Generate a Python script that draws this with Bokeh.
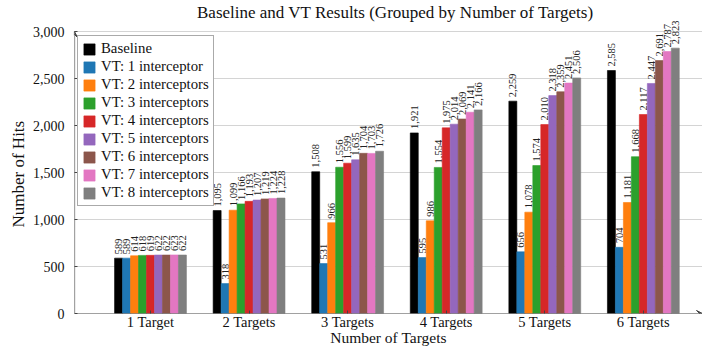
import math
from bokeh.plotting import figure
from bokeh.models import (ColumnDataSource, Legend, LegendItem, FixedTicker,
                          NumeralTickFormatter, Arrow, VeeHead, Range1d, Label, Title)
from bokeh.core.properties import value
from bokeh.embed import file_html
from bokeh.resources import INLINE

categories = ["1 Target", "2 Targets", "3 Targets", "4 Targets", "5 Targets", "6 Targets"]
series_names = ["Baseline", "VT: 1 interceptor", "VT: 2 interceptors", "VT: 3 interceptors",
                "VT: 4 interceptors", "VT: 5 interceptors", "VT: 6 interceptors",
                "VT: 7 interceptors", "VT: 8 interceptors"]
colors = ["#000000", "#1f77b4", "#ff7f0e", "#2ca02c", "#d62728",
          "#9467bd", "#8c564b", "#e377c2", "#7f7f7f"]

baseline = [589, 1095, 1508, 1921, 2259, 2585]
vt1 = [589, 318, 531, 595, 656, 704]
vt2 = [614, 1099, 966, 986, 1078, 1181]
vt3 = [618, 1166, 1556, 1554, 1574, 1668]
vt4 = [619, 1193, 1599, 1975, 2010, 2117]
vt5 = [622, 1207, 1635, 2014, 2318, 2447]
vt6 = [622, 1219, 1704, 2069, 2359, 2691]
vt7 = [623, 1224, 1703, 2141, 2451, 2787]
vt8 = [622, 1228, 1726, 2166, 2506, 2823]
all_series = [baseline, vt1, vt2, vt3, vt4, vt5, vt6, vt7, vt8]

y_ticks = [0, 500, 1000, 1500, 2000, 2500, 3000]

title_text = "Baseline and VT Results (Grouped by Number of Targets)"
x_title = "Number of Targets"
y_title = "Number of Hits"

SERIF = "Liberation Serif"

# layout (pixels)
W, H = 702, 348
BL, BB = 74, 35
FH = H - BB                 # frame spans the full height above the x axis
AXIS_TOP_PX = 31            # pixel row of the 3,000 gridline
PLOT_PX = FH - AXIS_TOP_PX  # pixels from 0 to 3,000

x_lo, x_hi = 0.229, 6.6
y_lo, y_top = 0, 3000
y_hi = y_top + AXIS_TOP_PX * (y_top - y_lo) / PLOT_PX

p = figure(width=W, height=H, output_backend="svg", toolbar_location=None,
           x_range=Range1d(x_lo, x_hi), y_range=Range1d(y_lo, y_hi),
           min_border_left=BL, min_border_right=0, min_border_top=0, min_border_bottom=BB)
p.title = None

bw = 0.081
xs = list(range(1, len(categories) + 1))
items = []
for j, (name, vals, col) in enumerate(zip(series_names, all_series, colors)):
    off = (j - 4) * bw
    src = ColumnDataSource(dict(x=[x + off for x in xs], top=vals,
                                lab=[f"{v:,}" for v in vals]))
    r = p.vbar(x="x", top="top", width=bw, source=src, fill_color=col,
               line_color=col, line_width=0.6)
    p.text(x="x", y="top", text="lab", source=src, angle=math.pi / 2,
           text_align="left", text_baseline="middle", y_offset=-4,
           text_font=value(SERIF), text_font_size="10.5px", text_color="#222222")
    items.append(LegendItem(label=name, renderers=[r]))

legend = Legend(items=items, location=(3, 107), padding=4, spacing=1,
                glyph_width=14, glyph_height=14, label_height=14, label_standoff=5,
                label_text_font=SERIF, label_text_font_size="14.8px",
                label_text_color="#111111",
                border_line_color="#555555", border_line_width=1,
                background_fill_alpha=1.0)
p.add_layout(legend)

p.xgrid.grid_line_color = None
p.ygrid.grid_line_color = "#d4d4d4"
p.ygrid.ticker = FixedTicker(ticks=y_ticks)
p.outline_line_color = None

p.xaxis.ticker = FixedTicker(ticks=xs)
p.xaxis.major_label_overrides = {x: c for x, c in zip(xs, categories)}
p.yaxis.ticker = FixedTicker(ticks=y_ticks)
p.yaxis.formatter = NumeralTickFormatter(format="0,0")

for ax in (p.xaxis[0], p.yaxis[0]):
    ax.axis_line_color = None
    ax.major_tick_in = 3
    ax.major_tick_out = 0
    ax.minor_tick_line_color = None
    ax.major_tick_line_color = "#444444"
    ax.major_label_text_font = SERIF
    ax.major_label_text_color = "#111111"
    ax.axis_label_text_font = SERIF
    ax.axis_label_text_font_style = "normal"
    ax.axis_label_text_color = "#111111"

p.xaxis.axis_label = x_title
p.xaxis.major_label_text_font_size = "14.5px"
p.xaxis.axis_label_text_font_size = "15.5px"
p.yaxis.major_label_text_font_size = "14px"
p.xaxis.major_label_standoff = 0
p.xaxis.axis_label_standoff = -4
p.yaxis.major_label_standoff = 10

# y axis title, placed beside the 0..3,000 span
p.add_layout(Title(text=y_title, align="left", offset=86, standoff=4,
                   text_font=SERIF, text_font_size="17px", text_font_style="normal",
                   text_color="#111111"), "left")

# chart title, drawn in the space above the 3,000 line
p.add_layout(Label(x=321, y=FH - 12, x_units="screen", y_units="screen",
                   text=title_text, text_font=SERIF, text_font_size="17px",
                   text_align="center", text_baseline="middle", text_color="#111111"))

p.add_layout(Arrow(end=VeeHead(size=6, line_color="#444444", fill_color="#444444"),
                   x_start=x_lo, y_start=y_lo, x_end=x_hi, y_end=y_lo,
                   line_color="#444444", line_width=1.2))
p.add_layout(Arrow(end=VeeHead(size=6, line_color="#444444", fill_color="#444444"),
                   x_start=x_lo, y_start=y_lo, x_end=x_lo, y_end=y_top,
                   line_color="#444444", line_width=1.2))

open("out.html", "w").write(file_html(p, INLINE))
